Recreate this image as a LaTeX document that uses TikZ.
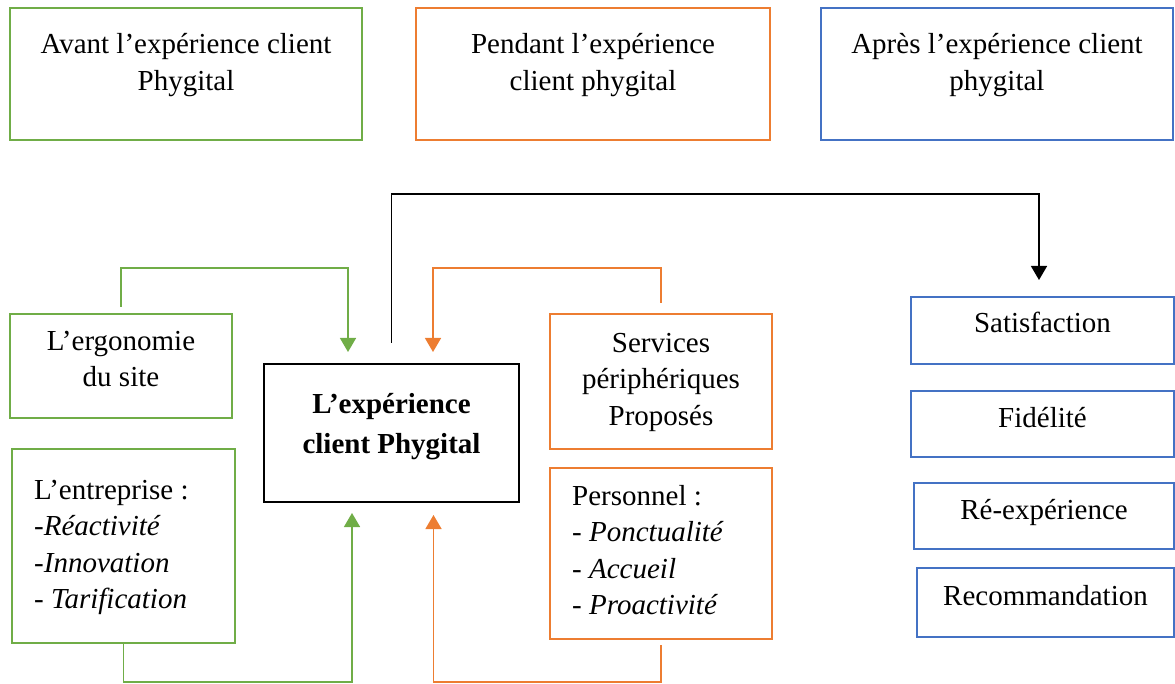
\documentclass[tikz,border=0pt]{standalone}
\usepackage{fontspec}
\setmainfont{Liberation Serif}
\usetikzlibrary{arrows.meta}
\definecolor{cgreen}{HTML}{70AD47}
\definecolor{corange}{HTML}{ED7D31}
\definecolor{cblue}{HTML}{4472C4}
\tikzset{
  box/.style={draw, line width=1.5pt, inner sep=0pt, outer sep=0pt, anchor=north west},
  txt/.style={inner sep=0pt, font=\fontsize{29}{36.5}\selectfont},
  conn/.style={line width=1.5pt, -{Triangle[width=16pt,length=14pt]}},
}
\begin{document}
\begin{tikzpicture}[x=1pt,y=-1pt]
\useasboundingbox (0,0) rectangle (1175,684);

% phase boxes
\node[box, cgreen, minimum width=352pt, minimum height=132pt] (avant) at (10,8) {};
\node[box, corange, minimum width=354pt, minimum height=132pt] (pendant) at (416,8) {};
\node[box, cblue, minimum width=352pt, minimum height=132pt] (apres) at (821,8) {};
\node[txt, anchor=north, align=center] (tavant) at (186,28) {\strut Avant l’expérience client\\Phygital};
\node[txt, anchor=north, align=center] (tpendant) at (593,28) {\strut Pendant l’expérience\\client phygital};
\node[txt, anchor=north, align=center] (tapres) at (997,28) {\strut Après l’expérience client\\phygital};

% factors
\node[box, cgreen, minimum width=222pt, minimum height=104pt] (ergo) at (10,314) {};
\node[box, cgreen, minimum width=223pt, minimum height=194pt] (entre) at (12,449) {};
\node[box, corange, minimum width=222pt, minimum height=135pt] (serv) at (550,314) {};
\node[box, corange, minimum width=222pt, minimum height=171pt] (perso) at (550,468) {};
\node[txt, anchor=north, align=center] (tergo) at (121,324.5) {\strut L’ergonomie\\du site};
\node[txt, anchor=north west, align=left] (tentre) at (34,473.5) {\strut L’entreprise :\\-\textit{Réactivité}\\-\textit{Innovation}\\- \textit{Tarification}};
\node[txt, anchor=north, align=center] (tserv) at (661,326.5) {\strut Services\\périphériques\\Proposés};
\node[txt, anchor=north west, align=left] (tperso) at (572,479.5) {\strut Personnel :\\- \textit{Ponctualité}\\- \textit{Accueil}\\- \textit{Proactivité}};

% central box
\node[box, black, minimum width=255pt, minimum height=138pt] (centre) at (264,364) {};
\node[inner sep=0pt, anchor=north, align=center, font=\fontsize{29}{40}\selectfont\bfseries] (tcentre) at (391.5,385) {\strut L’expérience\\client Phygital};

% outcomes
\node[box, cblue, minimum width=263pt, minimum height=67pt] (sat) at (911,297) {};
\node[box, cblue, minimum width=263pt, minimum height=66pt] (fid) at (911,391) {};
\node[box, cblue, minimum width=260pt, minimum height=66pt] (reexp) at (914,483) {};
\node[box, cblue, minimum width=257pt, minimum height=69pt] (reco) at (917,568) {};
\node[txt, anchor=base] (tsat) at (1042.5,333) {Satisfaction};
\node[txt, anchor=base] (tfid) at (1042.5,427) {Fidélité};
\node[txt, anchor=base] (treexp) at (1044,519) {Ré-expérience};
\node[txt, anchor=base] (treco) at (1045.5,605) {Recommandation};

% connectors
\draw[conn, cgreen, shorten <=7pt, shorten >=12pt] (ergo.north) -- ++(0,-46) -| ([xshift=-43.5pt]centre.north);
\draw[conn, cgreen, shorten >=11pt] (entre.south) -- ++(0,39) -| ([xshift=-39.5pt]centre.south);
\draw[conn, corange, shorten <=11pt, shorten >=12pt] (serv.north) -- ++(0,-46) -| ([xshift=41.5pt]centre.north);
\draw[conn, corange, shorten <=6pt, shorten >=13pt] (perso.south) -- ++(0,43) -| ([xshift=42pt]centre.south);
\draw[conn, black, shorten <=21pt, shorten >=17pt] (centre.north) -- ++(0,-170) -| ([xshift=-3.5pt]sat.north);
\end{tikzpicture}
\end{document}
